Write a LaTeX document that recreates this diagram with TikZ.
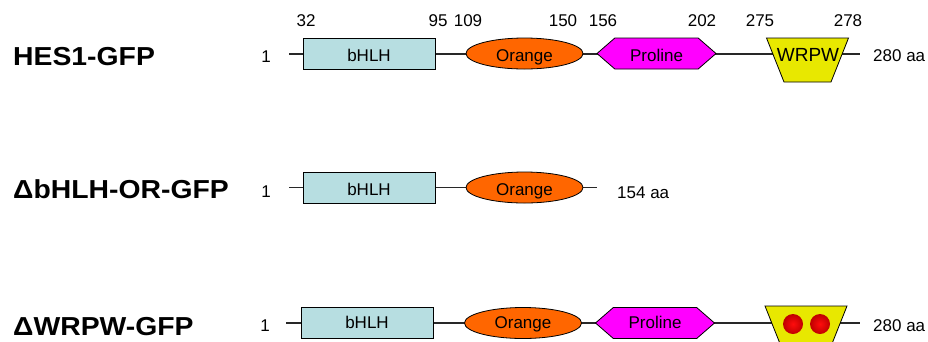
\documentclass[tikz,border=0pt]{standalone}
\usepackage{fontspec}
\setmainfont{Liberation Sans}
\usetikzlibrary{shapes.geometric,shapes.symbols,backgrounds,calc}

\definecolor{hlhblue}{RGB}{183,222,225}
\definecolor{orangedom}{RGB}{255,102,0}
\definecolor{prodom}{RGB}{255,0,255}
\definecolor{wrpwdom}{RGB}{232,232,0}
\definecolor{backbone}{RGB}{40,40,40}

\tikzset{
  constructname/.style={font=\bfseries\fontsize{26}{30}\selectfont, anchor=base west, inner sep=0pt, xscale=1.09},
  smalltext/.style={font=\fontsize{17}{20}\selectfont, inner sep=0pt},
  resnum/.style={smalltext, anchor=base},
  domainshape/.style={draw=black, line width=0.8pt, inner sep=0pt, text height=15.2pt, text depth=0pt, font=\fontsize{17}{20}\selectfont},
  lowrow/.style={text height=10pt},
  bhlhbox/.style={domainshape, rectangle, fill=hlhblue, minimum width=132pt, minimum height=31pt},
  orangebox/.style={domainshape, ellipse, fill=orangedom, minimum width=117pt, minimum height=31pt},
  probox/.style={domainshape, signal, signal to=east and west, signal pointer angle=82, fill=prodom, minimum width=119pt, minimum height=31pt},
  wrpwbox/.style={draw=black, line width=0.8pt, fill=wrpwdom},
  redball/.style={circle, inner sep=0pt, minimum size=20pt, draw=none, inner color=red!95!white, outer color=red!75!black},
  backboneline/.style={draw=backbone, line width=1.3pt}
}

% inverted trapezoid for the WRPW motif, centred on #1
\newcommand{\wrpwshape}[1]{%
  \draw[wrpwbox] ($(#1)+(-41,-22)$) -- ($(#1)+(41,-22)$) -- ($(#1)+(23.5,22)$) -- ($(#1)+(-23.5,22)$) -- cycle;}

\begin{document}
\begin{tikzpicture}[x=1pt,y=-1pt]
\useasboundingbox (0,0) rectangle (928,341);

% construct names
\node[constructname] (n1) at (13,65) {HES1-GFP};
\node[constructname] (n2) at (13,198) {ΔbHLH-OR-GFP};
\node[constructname] (n3) at (13,335) {ΔWRPW-GFP};

% residue positions above the full-length protein
\node[resnum] (p32)  at (306,26) {32};
\node[resnum] (p95)  at (438,26) {95};
\node[resnum] (p109) at (468,26) {109};
\node[resnum] (p150) at (563,26) {150};
\node[resnum] (p156) at (603,26) {156};
\node[resnum] (p202) at (702,26) {202};
\node[resnum] (p275) at (760,26) {275};
\node[resnum] (p278) at (848,26) {278};

% ---- HES1-GFP ----
\node[resnum] (one1) at (266,62) {1};
\coordinate (s1) at (289,54);
\coordinate (e1) at (860,54);
\node[bhlhbox]   (b1) at (369,53.5) {bHLH};
\node[orangebox] (o1) at (524.5,53.5) {Orange};
\node[probox]    (r1) at (656.5,53.5) {Proline};
\coordinate (w1) at (807.5,60);
\wrpwshape{w1}
\node[smalltext, anchor=base] (w1t) at (808,61) {\fontsize{19}{22}\selectfont WRPW};
\node[smalltext, anchor=base west] (len1) at (873,61) {280 aa};

% ---- deletion of WRPW and proline ----
\node[resnum] (one2) at (266,197) {1};
\coordinate (s2) at (289,187.5);
\coordinate (e2) at (597,187.5);
\node[bhlhbox]   (b2) at (369,187.5) {bHLH};
\node[orangebox] (o2) at (524.5,187.5) {Orange};
\node[smalltext, anchor=base west] (len2) at (617,198) {154 aa};

% ---- WRPW mutant ----
\node[resnum] (one3) at (265,331) {1};
\coordinate (s3) at (286,323);
\coordinate (e3) at (860,323);
\node[bhlhbox, lowrow]   (b3) at (367,323) {bHLH};
\node[orangebox, lowrow] (o3) at (523,323) {Orange};
\node[probox, lowrow]    (r3) at (655,323) {Proline};
\coordinate (w3) at (806,328);
\wrpwshape{w3}
\node[redball]   (d1) at (793,324) {};
\node[redball]   (d2) at (820,324) {};
\node[smalltext, anchor=base west] (len3) at (873,331) {280 aa};

% protein backbones behind the domains
\begin{scope}[on background layer]
  \draw[backboneline] (s1) -- (e1);
  \draw[backboneline] (s2) -- (e2);
  \draw[backboneline] (s3) -- (e3);
\end{scope}
\end{tikzpicture}
\end{document}
